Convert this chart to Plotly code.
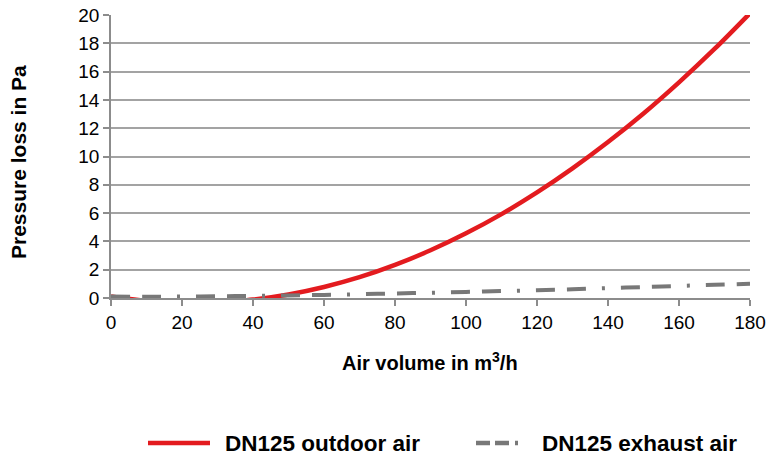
import plotly.graph_objects as go

# Data
air_volume = [0, 10, 20, 30, 40, 50, 60, 70, 80, 90, 100, 110, 120, 130, 140, 150, 160, 170, 180]
outdoor_air = [0.10, -0.20, -0.34, -0.31, -0.11, 0.25, 0.78, 1.47, 2.34, 3.37, 4.57, 5.93,
               7.46, 9.16, 11.02, 13.04, 15.24, 17.60, 20.13]
exhaust_air = [0.10, 0.09, 0.10, 0.12, 0.15, 0.18, 0.22, 0.27, 0.32, 0.37, 0.43, 0.49,
               0.55, 0.62, 0.70, 0.77, 0.85, 0.93, 1.00]

series_names = ["DN125 outdoor air", "DN125 exhaust air"]
x_ticks = [0, 20, 40, 60, 80, 100, 120, 140, 160, 180]
y_ticks = [0, 2, 4, 6, 8, 10, 12, 14, 16, 18, 20]

RED = "#e31b1f"
GRAY = "#787878"
GRID = "#a3a3a3"
FONT = "Liberation Sans, Arial, sans-serif"
DASH = "19px,12px,19px,16px,3px,16px"

fig = go.Figure()
fig.add_trace(go.Scatter(x=air_volume, y=outdoor_air, mode="lines", name=series_names[0],
                         line=dict(color=RED, width=4.5, shape="spline"), showlegend=False))
fig.add_trace(go.Scatter(x=air_volume, y=exhaust_air, mode="lines", name=series_names[1],
                         line=dict(color=GRAY, width=4, shape="spline", dash=DASH), showlegend=False))

L, R, T, B = 111, 18, 15, 162
W, H = 768, 460
pw, ph = W - L - R, H - T - B


def px_x(p):
    return (p - L) / pw


def px_y(p):
    return (H - B - p) / ph


fig.update_layout(
    width=W, height=H,
    margin=dict(l=L, r=R, t=T, b=B, autoexpand=False),
    paper_bgcolor="white", plot_bgcolor="white",
    font=dict(family=FONT, color="black"),
    xaxis=dict(range=[0, 180], tickvals=x_ticks, showgrid=False, zeroline=False, automargin=False,
               showline=True, linecolor="#8c8c8c", linewidth=1.5,
               ticks="outside", ticklen=6, tickcolor="#8c8c8c", tickwidth=1.5,
               tickfont=dict(size=19, family=FONT, color="black")),
    yaxis=dict(range=[0, 20], tickvals=y_ticks, showgrid=True, gridcolor=GRID, gridwidth=1.5,
               zeroline=False, showline=True, linecolor="#8c8c8c", linewidth=1.5, automargin=False,
               ticks="outside", ticklen=6, tickcolor="#8c8c8c", tickwidth=1.5,
               tickfont=dict(size=19, family=FONT, color="black")),
    showlegend=False,
)

# Axis titles
fig.add_annotation(text="<b>Air volume in m<sup>3</sup>/h</b>", xref="paper", yref="paper",
                   x=px_x(430), y=px_y(361), showarrow=False, xanchor="center", yanchor="middle",
                   font=dict(size=20, family=FONT, color="black"))
fig.add_annotation(text="<b>Pressure loss in Pa</b>", xref="paper", yref="paper",
                   x=px_x(18), y=px_y(162), showarrow=False, xanchor="center", yanchor="middle",
                   textangle=-90, font=dict(size=21, family=FONT, color="black"))

# Legend (drawn manually to match the long symbol lines)
ly = px_y(443)
fig.add_shape(type="line", xref="paper", yref="paper", x0=px_x(148), x1=px_x(210), y0=ly, y1=ly,
              line=dict(color=RED, width=4.5))
fig.add_annotation(text="<b>" + series_names[0] + "</b>", xref="paper", yref="paper",
                   x=px_x(223), y=ly, showarrow=False, xanchor="left", yanchor="middle",
                   font=dict(size=22.5, family=FONT, color="black"))
fig.add_shape(type="line", xref="paper", yref="paper", x0=px_x(476), x1=px_x(530), y0=ly, y1=ly,
              line=dict(color=GRAY, width=4.5, dash="14px,5px,14px,6px,3px,20px"))
fig.add_annotation(text="<b>" + series_names[1] + "</b>", xref="paper", yref="paper",
                   x=px_x(540), y=ly, showarrow=False, xanchor="left", yanchor="middle",
                   font=dict(size=22.5, family=FONT, color="black"))

fig.write_html("out.html", config={"displayModeBar": False},
               post_script="document.body.style.margin='0px';")
